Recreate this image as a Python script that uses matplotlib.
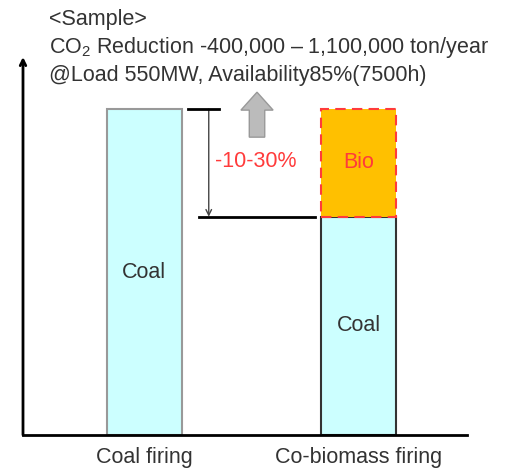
import numpy as np
import matplotlib
matplotlib.use('Agg')
import matplotlib.pyplot as plt
from matplotlib.patches import FancyArrow

plt.rcParams['font.family'] = ['Liberation Sans', 'DejaVu Sans']
plt.rcParams['mathtext.fontset'] = 'custom'
plt.rcParams['mathtext.rm'] = 'Liberation Sans'

# data
categories = ['Coal firing', 'Co-biomass firing']
coal_share = [100, 67]
bio_share = [0, 33]
reduction_label = '-10-30%'
title_lines = ['<Sample>',
               r'CO$_\mathregular{2}$ Reduction -400,000 – 1,100,000 ton/year',
               '@Load 550MW, Availability85%(7500h)']

cyan = '#CCFFFF'
orange = '#FFC000'
red = '#FF3B3B'
txt = '#333333'
fs = 15.5

fig = plt.figure(figsize=(5.12, 4.70), dpi=100)
ax = fig.add_axes([23/512, 35/470, 444/512, 378/470])
x = np.arange(len(categories))
w = 0.35

ax.bar(x[0], coal_share[0], w, color=cyan, edgecolor='#999999', linewidth=1.5, zorder=2)
ax.bar(x[1], coal_share[1], w, color=cyan, edgecolor='#333333', linewidth=1.5, zorder=2)
ax.bar(x[1], bio_share[1], w, bottom=coal_share[1], color=orange, edgecolor=red,
       linewidth=1.5, linestyle=(0, (5, 3)), zorder=3)

ax.text(x[0], coal_share[0] * 0.5, 'Coal', ha='center', va='center', fontsize=fs, color=txt)
ax.text(x[1], coal_share[1] * 0.5, 'Coal', ha='center', va='center', fontsize=fs, color=txt)
ax.text(x[1], coal_share[1] + bio_share[1] / 2, 'Bio', ha='center', va='center', fontsize=fs, color=red)

# reduction bracket
top, low = coal_share[0], coal_share[1]
xa = x[0] + w / 2
ax.plot([xa + 0.027, xa + 0.173], [top, top], color='black', lw=2, zorder=4)
ax.plot([xa + 0.08, x[1] - w / 2 - 0.03], [low, low], color='black', lw=2, zorder=4)
ax.annotate('', xy=(xa + 0.125, low), xytext=(xa + 0.125, top),
            arrowprops=dict(arrowstyle='->', color='#444444', lw=1.0, shrinkA=0, shrinkB=0))
ax.text(0.52, (top + low) / 2 + 0.5, reduction_label, ha='center', va='center', fontsize=fs, color=red)

# grey up arrow
ax.add_patch(FancyArrow(0.525, 91.4, 0, 13.8, width=0.072, head_width=0.15, head_length=5.5,
                        length_includes_head=True, facecolor='#BBBBBB', edgecolor='#999999', lw=1))

ax.set_xlim(-0.566, 1.504)
ax.set_ylim(0, 116)
ax.set_xticks(x)
ax.set_xticklabels(categories, fontsize=fs, color=txt)
ax.tick_params(axis='x', length=0, pad=9)
ax.set_yticks([])
for s in ['top', 'right']:
    ax.spines[s].set_visible(False)
ax.spines['left'].set_visible(False)
ax.spines['bottom'].set_linewidth(2)
ax.annotate('', xy=(-0.566, 116), xytext=(-0.566, 0), annotation_clip=False,
            arrowprops=dict(arrowstyle='->', color='black', lw=2, shrinkA=0, shrinkB=0))

for i, line in enumerate(title_lines):
    fig.text(49/512, 1 - (20 + 27.5 * i) / 470, line, fontsize=fs, color=txt, va='center', ha='left')

fig.savefig('out.png', dpi=100)
